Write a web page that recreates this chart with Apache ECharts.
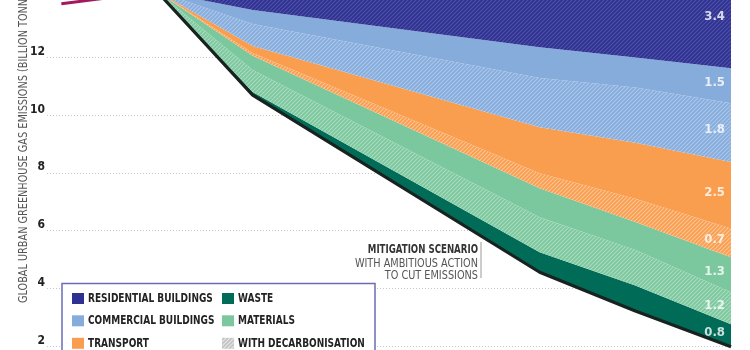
<!DOCTYPE html>
<html>
<head>
<meta charset="utf-8">
<script src="https://cdn.jsdelivr.net/npm/echarts@6/dist/echarts.min.js"></script>
<style>html,body{margin:0;padding:0;background:#fff}#c{width:750px;height:350px}</style>
</head>
<body>
<div id="c"></div>
<script>
// ---- data ----
var years = [2015, 2020, 2035, 2040, 2045];
var historyYears = [2010, 2015];
var historyValues = [13.85, 14.28];
var mitigation = [14.28, 10.69, 4.56, 3.22, 1.98];
var waste = [0, 0.11, 0.69, 0.88, 0.78];
var materialsDecarb = [0, 0.76, 1.21, 1.23, 1.11];
var materials = [0, 0.49, 1.01, 0.97, 1.21];
var transportDecarb = [0, 0.10, 0.52, 0.80, 0.99];
var transport = [0, 0.24, 1.59, 1.94, 2.31];
var commercialDecarb = [0, 0.76, 1.70, 1.91, 2.03];
var commercial = [0, 0.49, 1.07, 1.04, 1.21];
var residentialDecarb = [0, 1.00, 2.90, 3.20, 3.40];
var endLabels = ['0.8', '1.2', '1.3', '0.7', '2.5', '1.8', '1.5', '3.4']; // bottom to top
var yTicks = [0, 2, 4, 6, 8, 10, 12, 14];

var FONT = '"Liberation Sans Narrow", "DejaVu Sans Condensed", sans-serif';

function t(y) { return Date.UTC(y, 0, 1); }
var YR = (t(2045) - t(2015)) / 30;
function tf(y) { return t(2015) + (y - 2015) * YR; }

function hatch(bg, fg) {
  var c = document.createElement('canvas');
  c.width = 4; c.height = 4;
  var ctx = c.getContext('2d');
  ctx.fillStyle = bg; ctx.fillRect(0, 0, 4, 4);
  ctx.strokeStyle = fg; ctx.lineWidth = 1.1;
  ctx.beginPath();
  ctx.moveTo(0, 4); ctx.lineTo(4, 0);
  ctx.moveTo(-1, 1); ctx.lineTo(1, -1);
  ctx.moveTo(3, 5); ctx.lineTo(5, 3);
  ctx.stroke();
  return { image: c, repeat: 'repeat' };
}

var C = {
  res: '#2e3191', com: '#86acdc', tra: '#f99d4f', mat: '#7cc89e', was: '#006b56', line: '#18221f', hist: '#a3195b'
};

var layers = [
  { name: 'Waste', vals: waste, fill: C.was },
  { name: 'Materials decarbonisation', vals: materialsDecarb, fill: hatch(C.mat, '#aadcc0') },
  { name: 'Materials', vals: materials, fill: C.mat },
  { name: 'Transport decarbonisation', vals: transportDecarb, fill: hatch(C.tra, '#fcc595') },
  { name: 'Transport', vals: transport, fill: C.tra },
  { name: 'Commercial decarbonisation', vals: commercialDecarb, fill: hatch(C.com, '#abc7ea') },
  { name: 'Commercial buildings', vals: commercial, fill: C.com },
  { name: 'Residential decarbonisation', vals: residentialDecarb, fill: hatch(C.res, '#5053a6') }
];

function pairs(xs, ys) { return xs.map(function (x, i) { return [tf(x), ys[i]]; }); }

var series = [];
series.push({
  name: 'Mitigation', type: 'line', stack: 'e', data: pairs(years, mitigation),
  symbol: 'none', lineStyle: { color: C.line, width: 3.2 }, z: 10
});
layers.forEach(function (l) {
  series.push({
    name: l.name, type: 'line', stack: 'e', data: pairs(years, l.vals),
    symbol: 'none', lineStyle: { width: 0 }, areaStyle: { color: l.fill, opacity: 1 }, z: 2
  });
});
series.push({
  name: 'History', type: 'line', data: pairs(historyYears, historyValues),
  symbol: 'none', lineStyle: { color: C.hist, width: 3 }, z: 10
});

// end-of-wedge labels
var last = years.length - 1;
var cum = mitigation[last];
var labelData = [];
layers.forEach(function (l, i) {
  var v = l.vals[last];
  labelData.push({ value: [tf(years[last]), cum + v / 2], label: { formatter: endLabels[i] } });
  cum += v;
});
series.push({
  type: 'scatter', data: labelData, symbolSize: 0, z: 20, silent: true,
  label: { show: true, position: 'left', distance: 6, offset: [0, -3], color: '#fff', fontWeight: 'bold', fontSize: 13, fontFamily: FONT }
});

function txt(x, y, s, font, fill, align, sx) {
  return { type: 'text', x: x, y: y, scaleX: sx, z: 51,
    style: { text: s, fill: fill, font: font, textAlign: align, textVerticalAlign: 'middle' } };
}

var legendItems = [
  { t: 'RESIDENTIAL BUILDINGS', c: C.res, x: 72, y: 298.5 },
  { t: 'COMMERCIAL BUILDINGS', c: C.com, x: 72, y: 320.8 },
  { t: 'TRANSPORT', c: C.tra, x: 72, y: 343.3 },
  { t: 'WASTE', c: C.was, x: 222, y: 298.5 },
  { t: 'MATERIALS', c: C.mat, x: 222, y: 320.8 },
  { t: 'WITH DECARBONISATION', c: hatch('#c4c4c4', '#e6e6e6'), x: 222, y: 343.3 }
];
var graphics = [
  { type: 'rect', shape: { x: 62, y: 283.5, width: 313, height: 120 }, style: { fill: '#fff', stroke: '#6b6cb5', lineWidth: 1.5 }, z: 50 },
  { type: 'text', x: 24, y: 303, rotation: Math.PI / 2, scaleX: 0.9,
    style: { text: 'GLOBAL URBAN GREENHOUSE GAS EMISSIONS (BILLION TONNES CO\u2082e)', fill: '#555', font: '12px ' + FONT, textAlign: 'left', textVerticalAlign: 'middle' }, z: 50 },
  txt(478, 249.5, 'MITIGATION SCENARIO', 'bold 12px ' + FONT, '#333', 'right', 0.8),
  txt(478, 263.5, 'WITH AMBITIOUS ACTION', '12px ' + FONT, '#555', 'right', 0.9),
  txt(478, 275.5, 'TO CUT EMISSIONS', '12px ' + FONT, '#555', 'right', 0.9),
  { type: 'line', shape: { x1: 481, y1: 242, x2: 481, y2: 278 }, style: { stroke: '#999', lineWidth: 1 }, z: 50 }
];
legendItems.forEach(function (it) {
  graphics.push({ type: 'rect', shape: { x: it.x, y: it.y - 5.5, width: 12, height: 11 }, style: { fill: it.c }, z: 51 });
  graphics.push(txt(it.x + 16, it.y, it.t, 'bold 12.5px ' + FONT, '#222', 'left', 0.8));
});

var chart = echarts.init(document.getElementById('c'), null, { renderer: 'canvas' });
chart.setOption({
  animation: false,
  grid: { left: 47, right: 19, top: -0.5, bottom: -54, containLabel: false, outerBoundsMode: 'none' },
  xAxis: { type: 'time', min: tf(2009.25), max: tf(2045), show: false },
  yAxis: {
    type: 'value', min: yTicks[0], max: yTicks[yTicks.length - 1], interval: 2,
    axisLine: { show: false }, axisTick: { show: false },
    axisLabel: { color: '#222', fontWeight: 'bold', fontSize: 12, fontFamily: FONT, margin: 2, verticalAlign: 'bottom', lineHeight: 11 },
    splitLine: { lineStyle: { color: '#c8c8c8', type: [1, 2], width: 1 } }
  },
  series: series,
  graphic: graphics
});
</script>
</body>
</html>
